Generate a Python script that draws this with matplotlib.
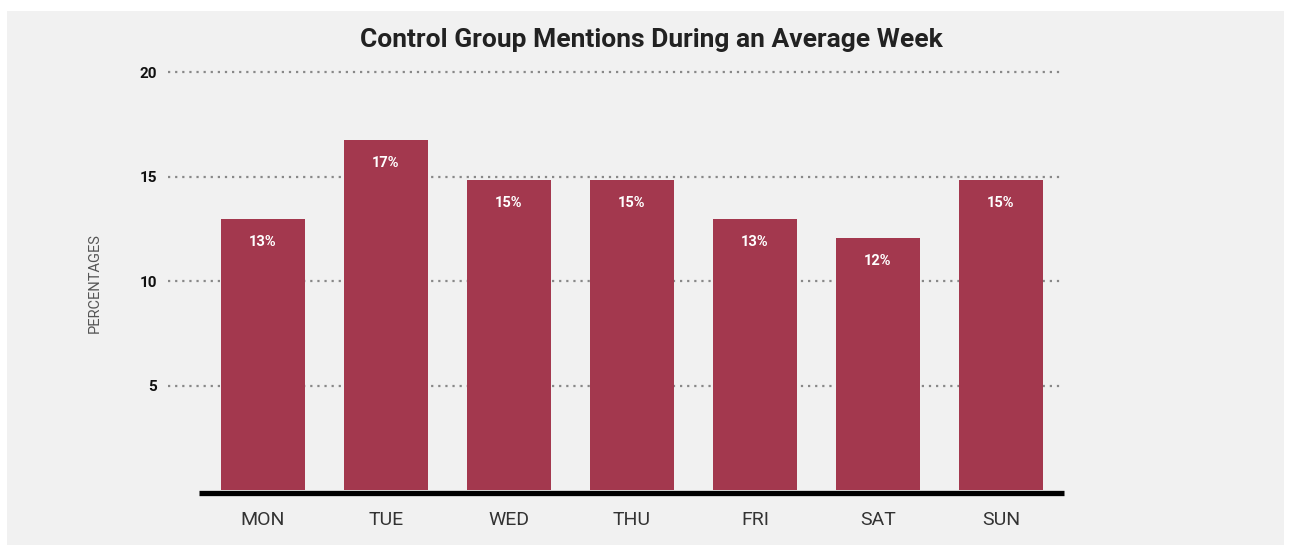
import matplotlib.pyplot as plt
from matplotlib.patches import Rectangle

# data
days = ["MON", "TUE", "WED", "THU", "FRI", "SAT", "SUN"]
mentions = [13.0, 16.75, 14.85, 14.85, 13.0, 12.05, 14.85]
yticks = [5, 10, 15, 20]

W, H = 1291, 549
fig = plt.figure(figsize=(W / 100, H / 100), dpi=100)
fig.patch.set_facecolor("white")
# grey panel behind everything
fig.patches.append(Rectangle((7 / W, 1 - 545 / H), (1284 - 7) / W, (545 - 11) / H,
                             transform=fig.transFigure, facecolor="#f1f1f1",
                             edgecolor="none", zorder=-10))

# axes box in pixels: left 168, right 1064, top 72.5, bottom 493
ax = fig.add_axes([168 / W, 1 - 493 / H, (1064 - 168) / W, (493 - 72.5) / H])
ax.set_facecolor("none")

x = list(range(len(days)))
bars = ax.bar(x, mentions, width=0.683, color="#a3384e", zorder=2)
ax.set_xlim(-0.772, 6.512)
ax.set_ylim(-0.15, 20)

for yv in yticks:
    ax.axhline(yv, color="#888888", lw=1.6, ls=(0, (1, 2.2)), zorder=1,
               clip_on=False)

ax.plot([-0.52, 6.512], [-0.15, -0.15], color="black", lw=3.8,
        solid_capstyle="butt", zorder=3, clip_on=False)

for b, v in zip(bars, mentions):
    ax.text(b.get_x() + b.get_width() / 2, v - 1.1, f"{round(v)}%",
            ha="center", va="center", color="white", fontsize=10.5,
            fontweight="bold", family="Roboto", zorder=4)

for s in ax.spines.values():
    s.set_visible(False)

ax.set_yticks(yticks)
ax.set_yticklabels([str(t) for t in yticks], fontsize=11, fontweight="bold",
                   family="Roboto", color="#111111")
ax.tick_params(axis="y", length=0, pad=8)
ax.set_xticks(x)
ax.set_xticklabels(days, fontsize=14, family="Roboto", color="#333333")
ax.tick_params(axis="x", length=0, pad=13)

fig.text(95 / W, 1 - 283 / H, "PERCENTAGES", rotation=90, ha="center",
         va="center", fontsize=10.5, family="Roboto", color="#555555")
fig.text(651 / W, 1 - 40 / H, "Control Group Mentions During an Average Week",
         ha="center", va="center", fontsize=19, fontweight="bold",
         family="Roboto", color="#222222")

fig.savefig("out.png", dpi=100, facecolor=fig.get_facecolor())
